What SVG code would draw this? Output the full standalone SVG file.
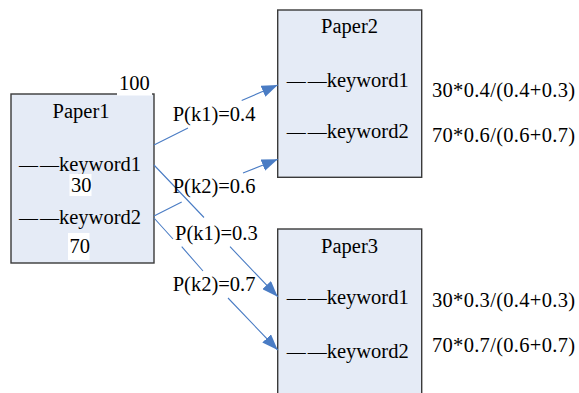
<svg xmlns="http://www.w3.org/2000/svg" width="579" height="393" viewBox="0 0 579 393">
<style>
.box{fill:#E5EBF6;stroke:#3a3a3a;stroke-width:1.4}
text{font-family:"Liberation Serif","Times New Roman",serif;font-size:20.5px;fill:#000}
.d{font-size:19px}
.mid{text-anchor:middle}
.ln{fill:none;stroke:#4A7CC4;stroke-width:1.1}
.bg{fill:#fff}
</style>
<defs>
<marker id="ah" viewBox="0 0 16 12" refX="16" refY="6" markerWidth="16" markerHeight="12" markerUnits="userSpaceOnUse" orient="auto">
<path d="M0,0 L16,6 L0,12 Z" fill="#4A7CC4"/>
</marker>
</defs>
<g id="paper1">
<rect class="box" x="11" y="94" width="143" height="169"/>
<rect class="bg" x="117" y="72" width="35" height="23.5"/>
<text x="119" y="90">100</text>
<text class="mid" x="81" y="118">Paper1</text>
<text x="19" y="171"><tspan class="d">—</tspan><tspan class="d" dx="2">—</tspan>keyword1</text>
<rect class="bg" x="69.5" y="174" width="22" height="22"/>
<text x="71" y="192">30</text>
<text x="19" y="224"><tspan class="d">—</tspan><tspan class="d" dx="2">—</tspan>keyword2</text>
<rect class="bg" x="68" y="233" width="21.5" height="27"/>
<text x="69.5" y="252.5">70</text>
</g>
<g id="paper2">
<rect class="box" x="277.7" y="10" width="144" height="167.3"/>
<text class="mid" x="349.5" y="33.3">Paper2</text>
<text x="286.7" y="86.7"><tspan class="d">—</tspan><tspan class="d" dx="2">—</tspan>keyword1</text>
<text x="286.7" y="138.3"><tspan class="d">—</tspan><tspan class="d" dx="2">—</tspan>keyword2</text>
</g>
<g id="paper3">
<rect class="box" x="277.7" y="229" width="144" height="180"/>
<text class="mid" x="349.5" y="252.7">Paper3</text>
<text x="286.7" y="304"><tspan class="d">—</tspan><tspan class="d" dx="2">—</tspan>keyword1</text>
<text x="286.7" y="358.3"><tspan class="d">—</tspan><tspan class="d" dx="2">—</tspan>keyword2</text>
</g>
<g id="connectors">
<path class="ln" d="M154,145 L188,128 M241.7,100.5 L277.7,85" marker-end="url(#ah)"/>
<path class="ln" d="M154,216 L181.7,202 M243,173 L277.7,159.3" marker-end="url(#ah)"/>
<path class="ln" d="M154,165 L204,217.5 M230,246.7 L277.7,296.7" marker-end="url(#ah)"/>
<path class="ln" d="M154,218 L173,239 M181.7,246.7 L203,271 M228,298 L277.7,350" marker-end="url(#ah)"/>
</g>
<g id="labels">
<text x="172.7" y="120.5">P(k1)=0.4</text>
<text x="172.7" y="193">P(k2)=0.6</text>
<text x="175" y="239.5">P(k1)=0.3</text>
<text x="172.7" y="290.5">P(k2)=0.7</text>
<text x="432" y="96.7" textLength="143">30*0.4/(0.4+0.3)</text>
<text x="432" y="141.7" textLength="143">70*0.6/(0.6+0.7)</text>
<text x="432" y="306.7" textLength="143">30*0.3/(0.4+0.3)</text>
<text x="432" y="351.7" textLength="143">70*0.7/(0.6+0.7)</text>
</g>
</svg>
